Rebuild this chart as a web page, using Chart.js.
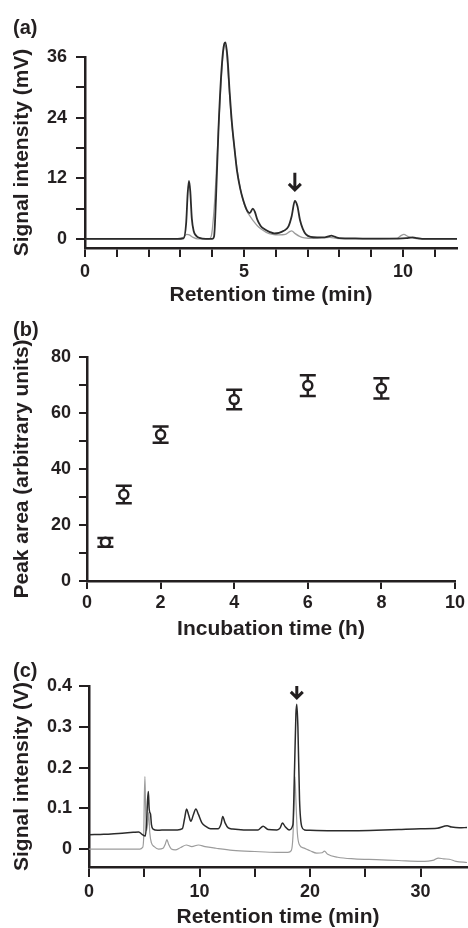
<!DOCTYPE html>
<html>
<head>
<meta charset="utf-8">
<script src="https://cdn.jsdelivr.net/npm/chart.js@4"></script>
<style>
  body { margin: 0; background: #fff; }
  #wrap { position: relative; width: 468px; height: 928px; background: #fff; }
  canvas { position: absolute; left: 0; }
  .tag { position: absolute; left: 13px; font: bold 20px 'Liberation Sans', Arial, sans-serif; line-height: 20px; color: #231f20; }
</style>
</head>
<body>
<div id="wrap">
  <canvas id="chartA" width="468" height="308" style="top:0px"></canvas>
  <canvas id="chartB" width="468" height="337" style="top:308px"></canvas>
  <canvas id="chartC" width="468" height="283" style="top:645px"></canvas>
  <div class="tag" style="top:17px">(a)</div>
  <div class="tag" style="top:319px">(b)</div>
  <div class="tag" style="top:660px">(c)</div>
</div>
<script>
// (a) chromatogram, signal in mV vs retention time in min
const darkA_min = [0, 1, 2, 2.9, 3.1, 3.18, 3.23, 3.27, 3.31, 3.36, 3.42, 3.5, 3.6, 3.8, 4.0, 4.06, 4.12, 4.2, 4.3, 4.38, 4.42, 4.48, 4.55, 4.62, 4.7, 4.78, 4.88, 4.98, 5.1, 5.18, 5.28, 5.34, 5.42, 5.52, 5.65, 5.8, 5.95, 6.1, 6.25, 6.4, 6.5, 6.6, 6.68, 6.76, 6.85, 6.95, 7.1, 7.3, 7.5, 7.65, 7.75, 7.85, 8.0, 8.5, 9.0, 9.5, 10.1, 10.3, 10.45, 10.6, 11.7];
const darkA_mv  = [0, 0, 0, 0, 0.1, 3, 9, 11.5, 9.5, 4, 1.5, 0.6, 0.2, 0, 0, 0.5, 8, 22, 34, 38.6, 38.9, 36, 29, 23, 18, 13.5, 10, 7.6, 5.6, 5.1, 6.0, 5.4, 3.8, 2.6, 1.9, 1.4, 1.1, 1.2, 1.6, 2.5, 4.5, 7.5, 6.5, 3.8, 2.0, 0.9, 0.4, 0.3, 0.3, 0.5, 0.65, 0.45, 0.15, 0.1, 0.05, 0.05, 0.15, 0.3, 0.15, 0, 0];
const grayA_min = [0, 2.9, 3.1, 3.2, 3.28, 3.4, 3.55, 3.9, 3.97, 4.05, 4.12, 4.2, 4.28, 4.35, 4.4, 4.45, 4.52, 4.6, 4.7, 4.8, 4.9, 5.0, 5.1, 5.2, 5.3, 5.42, 5.55, 5.7, 5.9, 6.1, 6.3, 6.45, 6.5, 6.6, 6.75, 6.9, 7.2, 7.7, 7.9, 8.5, 9.8, 9.95, 10.03, 10.15, 10.3, 10.5, 11.7];
const grayA_mv  = [0, 0, 0.3, 0.9, 0.8, 0.3, 0, 0, 0.5, 5, 12, 22, 31, 37, 38.3, 37, 31, 24, 18, 13, 9.5, 7, 5.4, 4.4, 3.5, 2.6, 1.9, 1.3, 0.9, 0.8, 0.9, 1.5, 1.6, 1.1, 0.5, 0.2, 0.1, 0.3, 0.1, 0, 0.1, 0.7, 0.9, 0.5, 0.2, 0, 0];
const arrowA = { x: 6.6, top: 13.1, tip: 9.7 };

// (b) peak area vs incubation time
const incubationHours = [0.5, 1, 2, 4, 6, 8];
const peakArea        = [13.8, 30.9, 52.3, 64.8, 69.8, 68.8];
const peakAreaErr     = [1.6, 3.1, 2.9, 3.5, 3.7, 3.6];

// (c) chromatogram, signal in V vs retention time in min
const darkC_min = [0, 1, 2, 3, 4, 4.5, 4.8, 5.1, 5.22, 5.3, 5.37, 5.44, 5.5, 5.57, 5.65, 5.8, 6.2, 7, 8, 8.45, 8.65, 8.83, 9.0, 9.22, 9.45, 9.67, 9.9, 10.2, 10.6, 11.0, 11.7, 11.95, 12.1, 12.3, 12.6, 13, 14, 15.3, 15.75, 16.2, 17, 17.3, 17.5, 17.75, 18.1, 18.45, 18.6, 18.72, 18.8, 18.9, 19.05, 19.25, 19.5, 20, 22, 24, 26, 28, 30, 31.5, 32.4, 32.8, 33.5, 34.2];
const darkC_v   = [0.035, 0.036, 0.037, 0.039, 0.041, 0.042, 0.036, 0.032, 0.07, 0.12, 0.141, 0.1, 0.09, 0.085, 0.06, 0.049, 0.046, 0.047, 0.047, 0.05, 0.075, 0.098, 0.085, 0.068, 0.085, 0.098, 0.085, 0.065, 0.055, 0.05, 0.05, 0.062, 0.08, 0.065, 0.052, 0.049, 0.047, 0.047, 0.056, 0.048, 0.047, 0.052, 0.064, 0.055, 0.047, 0.06, 0.2, 0.33, 0.355, 0.3, 0.12, 0.055, 0.047, 0.046, 0.045, 0.045, 0.046, 0.048, 0.05, 0.051, 0.057, 0.054, 0.052, 0.053];
const grayC_min = [0, 2, 4, 4.6, 4.85, 4.95, 5.0, 5.06, 5.12, 5.2, 5.3, 5.4, 5.5, 5.65, 5.9, 6.3, 6.7, 6.9, 7.05, 7.2, 7.45, 7.8, 8.3, 8.8, 9.3, 9.9, 10.5, 11.5, 13, 15, 17, 18, 18.3, 18.45, 18.55, 18.63, 18.72, 18.85, 19.05, 19.4, 20, 20.6, 21.1, 21.3, 21.6, 22.5, 24, 26, 28, 30, 31.2, 31.6, 32.1, 32.6, 33.2, 34.2];
const grayC_v   = [0, 0, 0, 0, 0.004, 0.03, 0.12, 0.178, 0.1, 0.045, 0.06, 0.09, 0.04, 0.015, 0.006, 0, 0.002, 0.012, 0.023, 0.012, 0, -0.002, 0.004, 0.01, 0.006, 0.01, 0.006, 0.002, -0.003, -0.006, -0.008, -0.008, -0.004, 0.03, 0.11, 0.178, 0.12, 0.04, 0.01, 0.003, -0.004, -0.01, -0.009, -0.005, -0.013, -0.02, -0.024, -0.026, -0.028, -0.03, -0.027, -0.022, -0.024, -0.025, -0.03, -0.033];
const arrowC = { x: 18.8, top: 0.4, tip: 0.371 };

const FONT = "'Liberation Sans', Arial, sans-serif";
const INK = '#231f20';

function pairs(xs, ys) {
    return xs.map((x, i) => ({ x: x, y: ys[i] }));
}

// one axis, ticks outside, no grid inside the plot
function makeScale(o) {
    return {
        type: 'linear',
        position: o.position,
        min: o.min,
        max: o.max,
        border: { display: true, color: INK, width: 2.5 },
        grid: { drawOnChartArea: false, color: INK, lineWidth: 2, tickLength: o.tickLength },
        ticks: {
            stepSize: o.step,
            autoSkip: false,
            includeBounds: false,
            maxRotation: 0,
            padding: o.pad,
            color: INK,
            font: { family: FONT, size: 18, weight: 'bold' },
            callback: o.label
        },
        title: {
            display: true,
            text: o.title,
            color: INK,
            font: { family: FONT, size: 21, weight: 'bold', lineHeight: 1 },
            padding: o.titlePad
        },
        afterFit: o.fit
    };
}

function trace(xs, ys, color, width) {
    return {
        data: pairs(xs, ys),
        borderColor: color,
        borderWidth: width,
        pointRadius: 0,
        cubicInterpolationMode: 'monotone',
        clip: false,
        fill: false
    };
}

function arrowPlugin(at) {
    return {
        id: 'arrow',
        afterDatasetsDraw(chart) {
            const { ctx, scales: { x, y } } = chart;
            const px = x.getPixelForValue(at.x);
            const top = y.getPixelForValue(at.top);
            const tip = y.getPixelForValue(at.tip);
            ctx.save();
            ctx.strokeStyle = INK;
            ctx.lineWidth = 3;
            ctx.beginPath();
            ctx.moveTo(px, top);
            ctx.lineTo(px, tip - 1);
            ctx.moveTo(px - 6, tip - 6);
            ctx.lineTo(px, tip);
            ctx.lineTo(px + 6, tip - 6);
            ctx.stroke();
            ctx.restore();
        }
    };
}

const errorBars = {
    id: 'errorBars',
    beforeDatasetsDraw(chart) {
        const { ctx, scales: { x, y } } = chart;
        ctx.save();
        ctx.strokeStyle = INK;
        ctx.lineWidth = 2.5;
        incubationHours.forEach((h, i) => {
            const px = x.getPixelForValue(h);
            const top = y.getPixelForValue(peakArea[i] + peakAreaErr[i]);
            const bot = y.getPixelForValue(peakArea[i] - peakAreaErr[i]);
            ctx.beginPath();
            ctx.moveTo(px, top); ctx.lineTo(px, bot);
            ctx.moveTo(px - 8, top); ctx.lineTo(px + 8, top);
            ctx.moveTo(px - 8, bot); ctx.lineTo(px + 8, bot);
            ctx.stroke();
        });
        ctx.restore();
    }
};

const common = {
    responsive: false,
    animation: false,
    devicePixelRatio: 1,
    plugins: { legend: { display: false }, tooltip: { enabled: false } }
};

const every = n => v => (Math.abs(v / n - Math.round(v / n)) < 1e-6 ? String(Math.round(v)) : '');

// (a)
new Chart(document.getElementById('chartA'), {
    type: 'line',
    data: {
        datasets: [
            trace(darkA_min, darkA_mv, '#2b2b2b', 1.8),
            trace(grayA_min, grayA_mv, '#9c9c9c', 1.3)
        ]
    },
    options: Object.assign({}, common, {
        layout: { padding: { left: 0, right: 11, top: 57, bottom: 2 } },
        scales: {
            x: makeScale({ position: 'bottom', min: 0, max: 11.7, step: 1, tickLength: 9, pad: 4,
                label: every(5), title: 'Retention time (min)', titlePad: { top: 0, bottom: 0 },
                fit: s => { s.height = 58; } }),
            y: makeScale({ position: 'left', min: -1.8, max: 36, step: 6, tickLength: 9, pad: 9,
                label: every(12), title: 'Signal intensity (mV)', titlePad: { top: 12, bottom: 0 },
                fit: s => { s.width = 85; } })
        }
    }),
    plugins: [arrowPlugin(arrowA)]
});

// (b)
new Chart(document.getElementById('chartB'), {
    type: 'scatter',
    data: {
        datasets: [{
            data: pairs(incubationHours, peakArea),
            pointRadius: 4.5,
            pointBorderWidth: 2.5,
            pointBorderColor: INK,
            pointBackgroundColor: '#fff',
            clip: false
        }]
    },
    options: Object.assign({}, common, {
        layout: { padding: { left: 0, right: 11, top: 49, bottom: 5 } },
        scales: {
            x: makeScale({ position: 'bottom', min: 0, max: 10, step: 2, tickLength: 8, pad: 3,
                label: every(2), title: 'Incubation time (h)', titlePad: { top: 0, bottom: 0 },
                fit: s => { s.height = 59; } }),
            y: makeScale({ position: 'left', min: 0, max: 80, step: 10, tickLength: 8, pad: 8,
                label: every(20), title: 'Peak area (arbitrary units)', titlePad: { top: 12, bottom: 0 },
                fit: s => { s.width = 87; } })
        }
    }),
    plugins: [errorBars]
});

// (c)
new Chart(document.getElementById('chartC'), {
    type: 'line',
    data: {
        datasets: [
            trace(darkC_min, darkC_v, '#2b2b2b', 1.5),
            trace(grayC_min, grayC_v, '#9c9c9c', 1.2)
        ]
    },
    options: Object.assign({}, common, {
        layout: { padding: { left: 0, right: 1, top: 41, bottom: 0 } },
        scales: {
            x: makeScale({ position: 'bottom', min: 0, max: 34.2, step: 5, tickLength: 10, pad: 4,
                label: every(10), title: 'Retention time (min)', titlePad: { top: 0, bottom: 0 },
                fit: s => { s.height = 61; } }),
            y: makeScale({ position: 'left', min: -0.044, max: 0.4, step: 0.1, tickLength: 10, pad: 7,
                label: v => (Math.abs(v) < 1e-9 ? '0' : v.toFixed(1)),
                title: 'Signal intensity (V)', titlePad: { top: 12, bottom: 0 },
                fit: s => { s.width = 89; } })
        }
    }),
    plugins: [arrowPlugin(arrowC)]
});
</script>
</body>
</html>
